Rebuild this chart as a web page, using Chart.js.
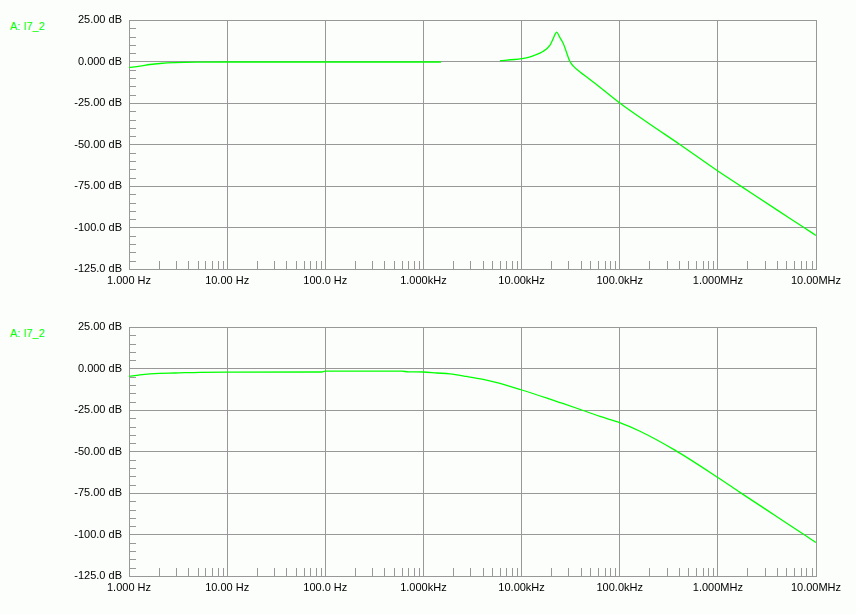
<!DOCTYPE html>
<html>
<head>
<meta charset="utf-8">
<script src="https://cdn.jsdelivr.net/npm/chart.js@4"></script>
<style>
    html, body { margin: 0; padding: 0; background: #fbfefb; }
    body { width: 856px; height: 614px; position: relative; overflow: hidden; }
    .panel { position: absolute; left: 0; width: 856px; height: 307px; }
    .trace { position: absolute; left: 10px; font: 11px "Liberation Sans", Arial, sans-serif; color: #00ff00; }
</style>
</head>
<body>
<div class="trace" style="top: 20px;">A: I7_2</div>
<div class="trace" style="top: 327px;">A: I7_2</div>
<div class="panel" style="top: 0;"><canvas id="topChart"></canvas></div>
<div class="panel" style="top: 307px;"><canvas id="bottomChart"></canvas></div>
<script>
// x axis: decade ticks and labels
const xTicks = [1, 10, 100, 1e3, 1e4, 1e5, 1e6, 1e7];
const xLabels = ['1.000 Hz', '10.00 Hz', '100.0 Hz', '1.000kHz', '10.00kHz', '100.0kHz', '1.000MHz', '10.00MHz'];

// y axis
const yTicks = [25, 0, -25, -50, -75, -100, -125];
const yLabels = ['25.00 dB', '0.000 dB', '-25.00 dB', '-50.00 dB', '-75.00 dB', '-100.0 dB', '-125.0 dB'];

// top trace (null = gap in the trace)
const freqTop = [1, 1.29, 1.64, 2.07, 2.94, 5.3, 10, 100, 1000, 1510, 3000, 6030, 8500, 10000, 12000, 13100, 16500, 19500,
    20900, 22800, 24500, 26600, 31200, 33500, 39400, 47500, 57600, 100000, 200000, 410000, 1000000, 1745000, 4000000, 7400000, 10000000];
const magTop = [-3.6, -2.8, -1.8, -1.2, -0.7, -0.4, -0.3, -0.3, -0.3, -0.3, null, 0.5, 1.2, 1.7, 2.6, 3.4, 6.0, 9.9,
    13.5, 17.7, 14.5, 10.9, -0.2, -2.6, -6.3, -9.9, -13.7, -25.0, -37.5, -50.0, -66.0, -75.4, -89.4, -99.7, -104.8];

// bottom trace
const freqBottom = [1, 1.29, 1.64, 2.07, 2.94, 5.3, 10, 92, 100, 600, 700, 1000, 1370, 1860, 2760, 4070, 6030, 9850,
    19500, 24600, 42500, 62900, 100000, 161000, 365000, 1007000, 1680000, 4000000, 7400000, 10000000];
const magBottom = [-4.8, -3.8, -3.2, -2.9, -2.7, -2.3, -2.2, -2.1, -1.6, -1.6, -2.0, -2.1, -2.7, -3.2, -4.8, -6.6, -9.0, -12.8,
    -18.5, -20.5, -25.3, -28.9, -32.6, -37.8, -49.2, -65.8, -74.6, -89.3, -99.7, -104.8];

const gridColor = '#989898';
const traceColor = '#00ff00';
const font = { family: '"Liberation Sans", Arial, sans-serif', size: 11 };

// small inside ticks: 2..9 per decade on x, every 5 dB on y
const minorTicks = {
    id: 'minorTicks',
    beforeDatasetsDraw(chart) {
        const ctx = chart.ctx;
        const xs = chart.scales.x;
        const ys = chart.scales.y;
        const area = chart.chartArea;
        ctx.save();
        ctx.strokeStyle = gridColor;
        ctx.lineWidth = 1;
        ctx.beginPath();
        for (let d = 1; d < 1e7; d *= 10) {
            for (let m = 2; m <= 9; m++) {
                const px = Math.round(xs.getPixelForValue(d * m)) + 0.5;
                ctx.moveTo(px, area.bottom);
                ctx.lineTo(px, area.bottom - 8);
            }
        }
        for (let v = -120; v < 25; v += 5) {
            if (v % 25 === 0) continue;
            const py = Math.round(ys.getPixelForValue(v)) + 0.5;
            ctx.moveTo(area.left, py);
            ctx.lineTo(area.left + 7, py);
        }
        ctx.stroke();
        ctx.restore();
    }
};

function makeChart(id, freqs, mags) {
    const points = freqs.map((f, i) => ({ x: f, y: mags[i] }));
    return new Chart(document.getElementById(id), {
        type: 'line',
        data: {
            datasets: [{
                data: points,
                borderColor: traceColor,
                borderWidth: 1.3,
                pointRadius: 0,
                cubicInterpolationMode: 'monotone',
                spanGaps: false
            }]
        },
        options: {
            responsive: true,
            maintainAspectRatio: false,
            animation: false,
            layout: { padding: { left: 0, right: 40, top: 20, bottom: 0 } },
            plugins: {
                legend: { display: false },
                tooltip: { enabled: false }
            },
            scales: {
                x: {
                    type: 'logarithmic',
                    min: 1,
                    max: 1e7,
                    afterBuildTicks: function(scale) {
                        scale.ticks = xTicks.map(v => ({ value: v }));
                    },
                    afterFit: function(scale) {
                        scale.height = 38;
                    },
                    grid: { color: gridColor, drawTicks: false },
                    border: { color: gridColor },
                    ticks: {
                        autoSkip: false,
                        maxRotation: 0,
                        padding: 5,
                        color: '#000000',
                        font: font,
                        callback: function(value, index) {
                            return xLabels[index];
                        }
                    }
                },
                y: {
                    min: -125,
                    max: 25,
                    afterBuildTicks: function(scale) {
                        scale.ticks = yTicks.map(v => ({ value: v }));
                    },
                    afterFit: function(scale) {
                        scale.width = 129;
                    },
                    grid: { color: gridColor, drawTicks: false },
                    border: { color: gridColor },
                    ticks: {
                        padding: 7,
                        color: '#000000',
                        font: font,
                        callback: function(value, index) {
                            return yLabels[index];
                        }
                    }
                }
            }
        },
        plugins: [minorTicks]
    });
}

makeChart('topChart', freqTop, magTop);
makeChart('bottomChart', freqBottom, magBottom);
</script>
</body>
</html>
